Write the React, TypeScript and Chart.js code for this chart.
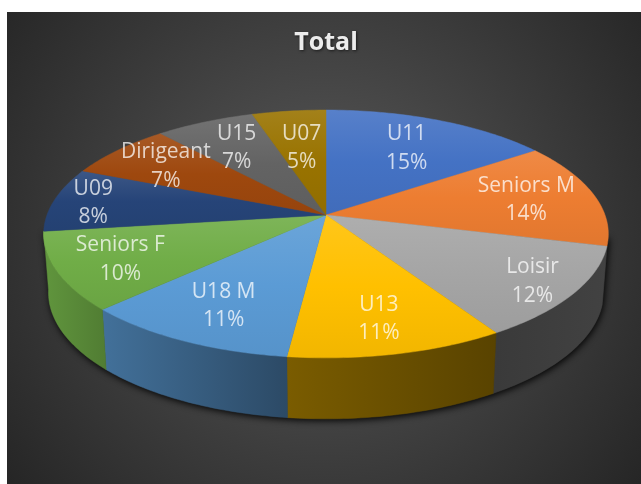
import React, { useEffect, useRef } from "react";
import { Chart, registerables } from "chart.js";

Chart.register(...registerables);

const categories = ["U11", "Seniors M", "Loisir", "U13", "U18 M", "Seniors F", "U09", "Dirigeant", "U15", "U07"];
const shares = [15.2, 13.8, 12.1, 10.8, 10.8, 10.2, 8.4, 7.2, 6.6, 4.9];
const colors = ["#4472c4", "#ed7d31", "#a5a5a5", "#ffc000", "#5b9bd5", "#70ad47", "#264478", "#9e480e", "#636363", "#997300"];
const labelRadii = [0.687, 0.745, 0.847, 0.77, 0.744, 0.777, 0.856, 0.754, 0.711, 0.623];
const wallShade: [number, number][] = [[45, 0.86], [105, 0.72], [287, 0.48], [496, 0.35], [610, 0.4]];

const W = 641;
const H = 484;
const PLOT_LEFT = 7;
const PLOT_TOP = 12;
const STRETCH_X = 279 / 149.8;
const STRETCH_Y = 121 / 149.8;
const PERSPECTIVE = 0.153;
const FONT = '"Open Sans", sans-serif';

function hexRgb(hex: string) {
  const n = parseInt(hex.slice(1), 16);
  return [(n >> 16) & 255, (n >> 8) & 255, n & 255];
}
function shade(hex: string, f: number) {
  const c = hexRgb(hex).map((v) => (f <= 1 ? v * f : v + (255 - v) * (f - 1)));
  return `rgb(${c.map((v) => Math.round(v)).join(",")})`;
}

const pie3d = {
  id: "pie3d",
  beforeDraw(chart: any) {
    const { ctx } = chart;
    const g = ctx.createRadialGradient(325, 235, 0, 325, 235, 400);
    g.addColorStop(0, "#5a5a5a");
    g.addColorStop(1, "#262626");
    ctx.save();
    ctx.fillStyle = g;
    ctx.fillRect(PLOT_LEFT, PLOT_TOP, W - PLOT_LEFT, H - PLOT_TOP);
    ctx.restore();
    ctx.shadowColor = "rgba(0,0,0,0.6)";
    ctx.shadowBlur = 3;
    ctx.shadowOffsetX = 1;
    ctx.shadowOffsetY = 1;
  },
  beforeDatasetsDraw(chart: any) {
    const { ctx } = chart;
    ctx.shadowColor = "transparent";
    ctx.shadowBlur = 0;
    ctx.shadowOffsetX = 0;
    ctx.shadowOffsetY = 0;
    const arcs = chart.getDatasetMeta(0).data;
    const first = arcs[0];
    const cx = first.x;
    const cy = first.y;
    const A = first.outerRadius * STRETCH_X;
    const B = first.outerRadius * STRETCH_Y;
    const top = (t: number, rho = 1) => {
      const X = rho * Math.sin(t);
      const Y = rho * Math.cos(t);
      const w = 1 + PERSPECTIVE * Y;
      return { x: cx + (A * X) / w, y: cy - (B * Y) / w };
    };
    const bottom = (t: number) => {
      const p = top(t);
      return { x: cx + (p.x - cx) * 0.983, y: p.y + 58 + 3 * Math.max(0, -Math.cos(t)) };
    };
    const toTheta = (a: number) => a + Math.PI / 2;
    const step = Math.PI / 180;
    const lo = (Math.PI * 100) / 180;
    const hi = toTheta(arcs[5].endAngle);

    // ground shadow, along the front rim only
    ctx.save();
    ctx.shadowColor = "rgba(0,0,0,0.95)";
    ctx.shadowBlur = 7;
    ctx.shadowOffsetX = 1;
    ctx.shadowOffsetY = 2;
    ctx.fillStyle = "#222";
    ctx.beginPath();
    const sp = top(lo);
    ctx.moveTo(sp.x, sp.y);
    for (let t = lo; t < hi; t += step) {
      const p = bottom(t);
      ctx.lineTo(p.x, p.y);
    }
    const ep = top(hi);
    ctx.lineTo(ep.x, ep.y);
    ctx.closePath();
    ctx.fill();
    ctx.restore();

    // walls: only the front of the rim shows
    arcs.forEach((arc: any, i: number) => {
      const s = Math.max(toTheta(arc.startAngle), lo);
      const e = Math.min(toTheta(arc.endAngle), hi);
      if (e <= s || i < 2 || i > 5) return;
      const g = ctx.createLinearGradient(45, 0, 610, 0);
      wallShade.forEach(([x, f]) => g.addColorStop((x - 45) / 565, shade(colors[i], f)));
      ctx.fillStyle = g;
      ctx.strokeStyle = g;
      ctx.lineWidth = 0.5;
      ctx.beginPath();
      for (let t = s; t < e; t += step) {
        const p = top(t);
        ctx.lineTo(p.x, p.y);
      }
      const pe = top(e);
      ctx.lineTo(pe.x, pe.y);
      const be = bottom(e);
      ctx.lineTo(be.x, be.y);
      for (let t = e; t > s; t -= step) {
        const p = bottom(t);
        ctx.lineTo(p.x, p.y);
      }
      const bs = bottom(s);
      ctx.lineTo(bs.x, bs.y);
      ctx.closePath();
      ctx.fill();
      ctx.stroke();
    });

    // top face
    arcs.forEach((arc: any, i: number) => {
      const s = toTheta(arc.startAngle);
      const e = toTheta(arc.endAngle);
      const pts = [{ x: cx, y: cy }];
      for (let t = s; t < e; t += step) pts.push(top(t));
      pts.push(top(e));
      const ys = pts.map((p) => p.y);
      const g = ctx.createLinearGradient(0, Math.min(...ys), 0, Math.max(...ys));
      g.addColorStop(0, shade(colors[i], 1.1));
      g.addColorStop(0.5, shade(colors[i], 1));
      g.addColorStop(1, shade(colors[i], 0.95));
      ctx.fillStyle = g;
      ctx.strokeStyle = g;
      ctx.lineWidth = 0.5;
      ctx.beginPath();
      pts.forEach((p) => ctx.lineTo(p.x, p.y));
      ctx.closePath();
      ctx.fill();
      ctx.stroke();
    });

    // labels
    ctx.save();
    ctx.font = `21px ${FONT}`;
    ctx.textAlign = "center";
    ctx.textBaseline = "middle";
    ctx.fillStyle = "rgba(255,255,255,0.74)";
    arcs.forEach((arc: any, i: number) => {
      const mid = toTheta((arc.startAngle + arc.endAngle) / 2);
      const p = top(mid, labelRadii[i]);
      ctx.fillText(categories[i], p.x, p.y - 13);
      ctx.fillText(`${Math.round(shares[i])}%`, p.x, p.y + 15.5);
    });
    ctx.restore();
    return false;
  },
};

export default function App() {
  const ref = useRef<HTMLCanvasElement | null>(null);
  useEffect(() => {
    document.body.style.background = "#fff";
    const chart = new Chart(ref.current as HTMLCanvasElement, {
      type: "pie",
      data: {
        labels: categories,
        datasets: [{ data: shares, backgroundColor: colors, borderWidth: 0 }],
      },
      plugins: [pie3d],
      options: {
        animation: false,
        responsive: false,
        devicePixelRatio: 1,
        layout: { padding: { left: 111, right: 100, top: 0, bottom: 119.2 } },
        plugins: {
          legend: { display: false },
          tooltip: { enabled: false },
          title: {
            display: true,
            text: "Total",
            color: "#ececec",
            font: { family: FONT, size: 25, weight: "bold" },
            padding: { top: 28, bottom: 7.2 },
          },
        },
      },
    } as any);
    return () => chart.destroy();
  }, []);
  return (
    <canvas
      ref={ref}
      width={W}
      height={H}
      style={{ position: "absolute", left: 0, top: 0, display: "block", width: W, height: H }}
    />
  );
}
